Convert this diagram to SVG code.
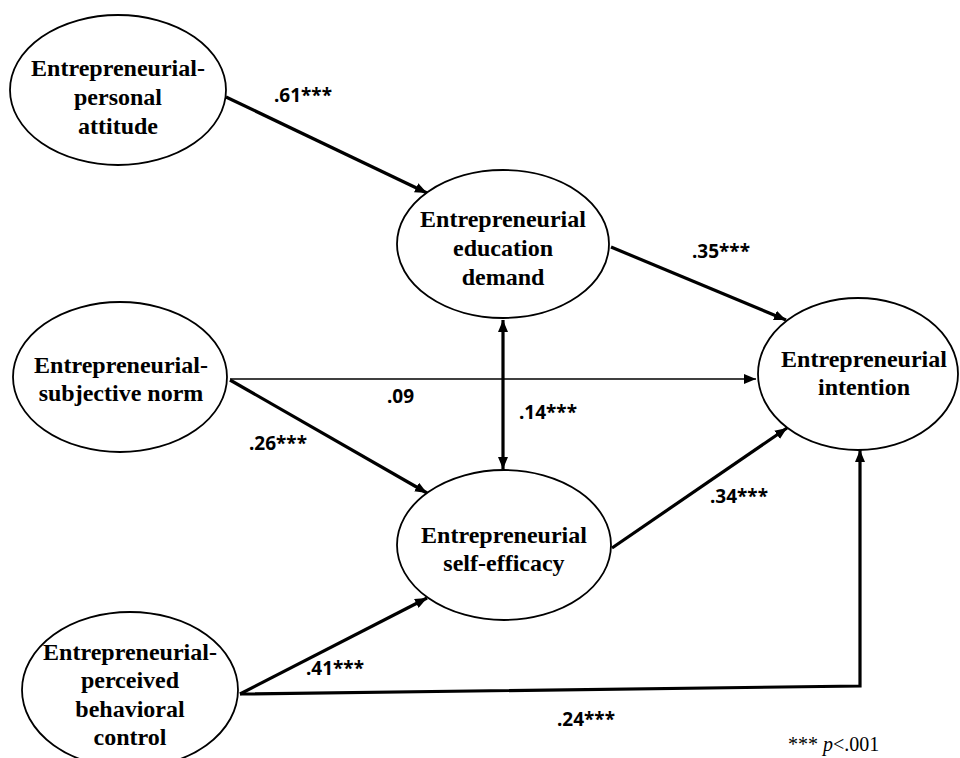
<svg xmlns="http://www.w3.org/2000/svg" width="960" height="758" viewBox="0 0 960 758">
<style>
.node ellipse{fill:#fff;stroke:#000;stroke-width:1.8}
.node text{font-family:"Liberation Serif","Times New Roman",serif;font-weight:bold;font-size:24px;text-anchor:middle;fill:#000}
.edge{fill:none;stroke:#000}
.thick{stroke-width:3.2}
.thin{stroke-width:1.6}
.lbl{font-family:"Noto Sans","Liberation Sans",sans-serif;font-weight:bold;font-size:19px;fill:#000}
.note{font-family:"Liberation Serif","Times New Roman",serif;font-size:20px;fill:#000}
</style>
<defs>
<marker id="ah" viewBox="0 0 12 10" refX="12" refY="5" markerWidth="12" markerHeight="10" markerUnits="userSpaceOnUse" orient="auto-start-reverse">
<path d="M0,0 L12,5 L0,10 z" fill="#000"/>
</marker>
</defs>
<rect width="960" height="758" fill="#fff"/>
<g id="connectors">
<line class="edge thick" x1="226" y1="97" x2="427" y2="193" marker-end="url(#ah)"/>
<line class="edge thick" x1="611" y1="247" x2="786" y2="320" marker-end="url(#ah)"/>
<line class="edge thin" x1="230" y1="379" x2="756" y2="379" marker-end="url(#ah)"/>
<line class="edge thick" x1="230" y1="380" x2="427" y2="493" marker-end="url(#ah)"/>
<line class="edge thick" x1="503" y1="320" x2="503" y2="469" marker-start="url(#ah)" marker-end="url(#ah)"/>
<line class="edge thick" x1="612" y1="548" x2="787" y2="428" marker-end="url(#ah)"/>
<line class="edge thick" x1="240" y1="694" x2="427" y2="598" marker-end="url(#ah)"/>
<polyline class="edge thick" points="240,694 860,686 860,450" marker-end="url(#ah)"/>
</g>
<g id="labels">
<text class="lbl" x="274" y="102">.61***</text>
<text class="lbl" x="692" y="258">.35***</text>
<text class="lbl" x="387" y="403">.09</text>
<text class="lbl" x="249" y="450">.26***</text>
<text class="lbl" x="519" y="419">.14***</text>
<text class="lbl" x="710" y="503">.34***</text>
<text class="lbl" x="306" y="675">.41***</text>
<text class="lbl" x="557" y="726">.24***</text>
<text class="note" x="788" y="751">*** <tspan font-style="italic">p</tspan>&lt;.001</text>
</g>
<g id="n-attitude" class="node">
<ellipse cx="118" cy="90" rx="108" ry="75"/>
<text x="118" y="76">Entrepreneurial-</text>
<text x="118" y="105">personal</text>
<text x="118" y="134">attitude</text>
</g>
<g id="n-education" class="node">
<ellipse cx="503" cy="244" rx="106" ry="74"/>
<text x="503" y="227">Entrepreneurial</text>
<text x="503" y="256">education</text>
<text x="503" y="285">demand</text>
</g>
<g id="n-norm" class="node">
<ellipse cx="120" cy="377" rx="107" ry="75"/>
<text x="121" y="373">Entrepreneurial-</text>
<text x="121" y="401">subjective norm</text>
</g>
<g id="n-intention" class="node">
<ellipse cx="858" cy="374" rx="100" ry="76"/>
<text x="864" y="367">Entrepreneurial</text>
<text x="864" y="395">intention</text>
</g>
<g id="n-selfefficacy" class="node">
<ellipse cx="504" cy="545" rx="107" ry="75"/>
<text x="504" y="543">Entrepreneurial</text>
<text x="504" y="571">self-efficacy</text>
</g>
<g id="n-pbc" class="node">
<ellipse cx="130" cy="690" rx="108" ry="78"/>
<text x="130" y="660">Entrepreneurial-</text>
<text x="130" y="688">perceived</text>
<text x="130" y="717">behavioral</text>
<text x="130" y="745">control</text>
</g>
</svg>
